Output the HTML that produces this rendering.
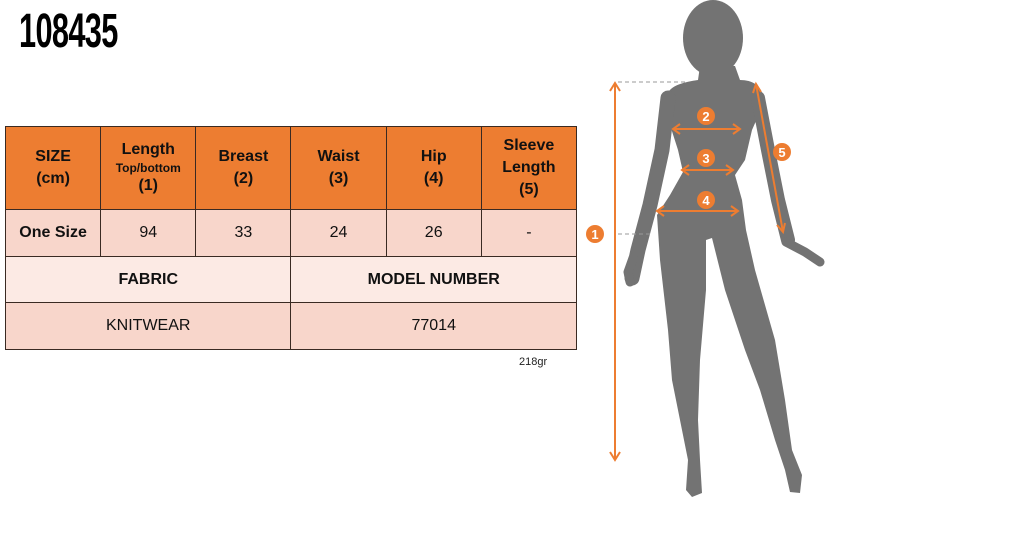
<!DOCTYPE html>
<html><head><style>
body{margin:0;width:1024px;height:533px;background:#fff;position:relative;overflow:hidden;font-family:"Liberation Sans",sans-serif}
#t{position:absolute;left:19px;top:4px;font-family:"Liberation Sans Narrow","Liberation Sans",sans-serif;font-weight:bold;font-size:48px;letter-spacing:-1px;transform:scaleX(0.64);transform-origin:left top;color:#000}
table{position:absolute;left:5px;top:126px;border-collapse:collapse;width:572px;table-layout:fixed}
td{border:1.3px solid #3a2a22;text-align:center;color:#111;font-size:16px;padding:0}
.h td{background:#ED7D31;height:82px;font-weight:bold;line-height:22px}
.h small{font-size:12px;display:block;line-height:14px}
.r1 td{background:#F8D6CB;height:46px}
.r2 td{background:#FCEAE4;height:45px;font-weight:bold}
.r3 td{background:#F8D6CB;height:46px}
#g{position:absolute;left:519px;top:356px;font-size:11px;color:#222}
</style></head><body>
<div id="t">108435</div>
<table>
<tr class="h"><td>SIZE<br>(cm)</td><td>Length<small>Top/bottom</small>(1)</td><td>Breast<br>(2)</td><td>Waist<br>(3)</td><td>Hip<br>(4)</td><td>Sleeve<br>Length<br>(5)</td></tr>
<tr class="r1"><td><b>One Size</b></td><td>94</td><td>33</td><td>24</td><td>26</td><td>-</td></tr>
<tr class="r2"><td colspan="3">FABRIC</td><td colspan="3">MODEL NUMBER</td></tr>
<tr class="r3"><td colspan="3">KNITWEAR</td><td colspan="3">77014</td></tr>
</table>
<div id="g">218gr</div>
<svg width="1024" height="533" style="position:absolute;left:0;top:0">
<g fill="#737373" stroke="none">
<ellipse cx="713" cy="38" rx="30" ry="38"/>
<path d="M700,66 L735,66 L740,80 C755,80 765,88 763,105 L752,130 L745,160 L735,175 L742,200 L746,230 L755,270 L775,340 L785,400 L792,450 L802,475 L800,493 L790,492 L785,470 L775,440 L760,390 L745,350 L725,290 L712,238 L706,240 L706,290 L700,360 L698,420 L700,460 L702,493 L692,497 L686,490 L688,460 L682,430 L672,380 L668,330 L660,260 L657,215 L670,195 L683,172 L678,150 L670,125 L667,95 C670,85 685,82 698,80 Z"/>
</g>
<g fill="none" stroke="#737373" stroke-linecap="round" stroke-linejoin="round">
<polyline points="668,98 662,150 650,205 638,250 632,278" stroke-width="15"/>
<polyline points="758,98 768,150 778,200 788,240" stroke-width="14"/>
<polyline points="786,242 805,252 820,262" stroke-width="9"/>
<polyline points="633,258 628,272 630,282" stroke-width="9"/>
</g>
<g stroke="#999" stroke-dasharray="4,3" stroke-width="1">
<line x1="618" y1="82" x2="686" y2="82"/><line x1="618" y1="234" x2="650" y2="234"/>
</g>
<g stroke="#ED7D31" stroke-width="2" fill="none">
<line x1="615" y1="83" x2="615" y2="460"/>
<polyline points="610,91 615,83 620,91"/><polyline points="610,452 615,460 620,452"/>
<line x1="673" y1="129" x2="740" y2="129"/>
<polyline points="680,124 673,129 680,134"/><polyline points="733,124 740,129 733,134"/>
<line x1="682" y1="170" x2="733" y2="170"/>
<polyline points="689,165 682,170 689,175"/><polyline points="726,165 733,170 726,175"/>
<line x1="657" y1="211" x2="738" y2="211"/>
<polyline points="664,206 657,211 664,216"/><polyline points="731,206 738,211 731,216"/>
<line x1="756" y1="84" x2="783" y2="232"/>
<polyline points="753,93 756,84 761,92"/><polyline points="777,225 783,232 785,223"/>
</g>
<g fill="#ED7D31">
<circle cx="595" cy="234" r="9"/><circle cx="706" cy="116" r="9"/><circle cx="706" cy="158" r="9"/><circle cx="706" cy="200" r="9"/><circle cx="782" cy="152" r="9"/>
</g>
<g fill="#fff" font-family="Liberation Sans" font-weight="bold" font-size="13" text-anchor="middle">
<text x="595" y="239">1</text><text x="706" y="121">2</text><text x="706" y="163">3</text><text x="706" y="205">4</text><text x="782" y="157">5</text>
</g>
</svg>
</body></html>
